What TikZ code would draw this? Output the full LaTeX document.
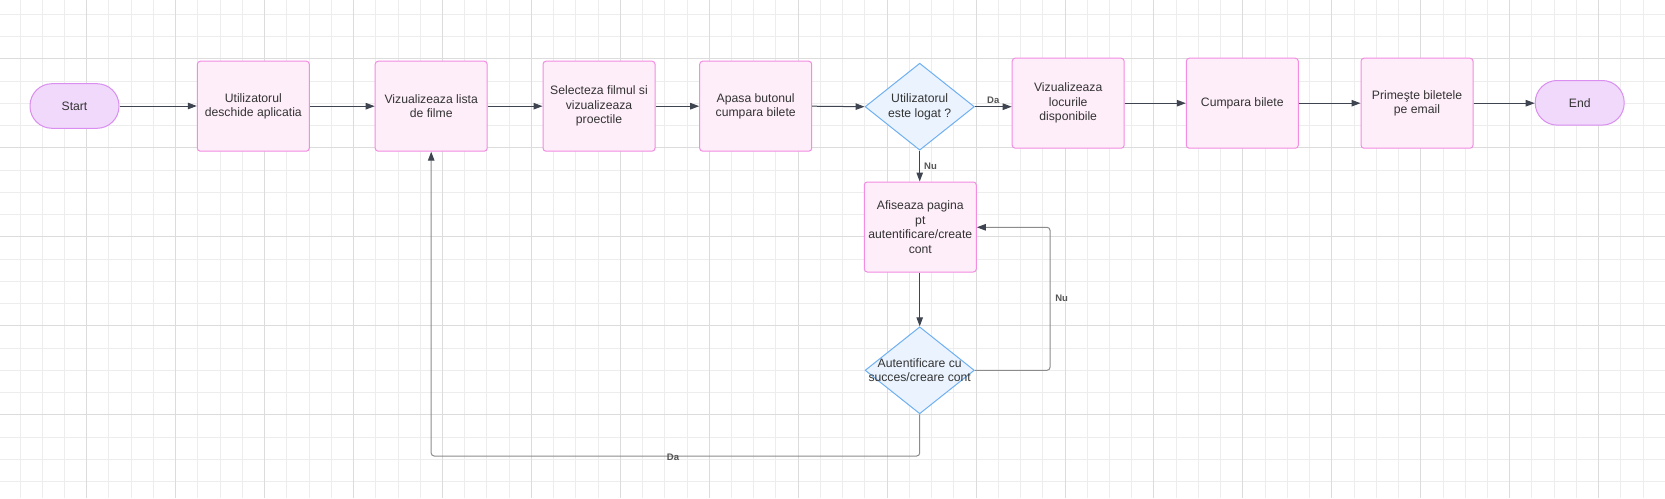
\documentclass[tikz,border=0pt]{standalone}
\usepackage{fontspec}
\setmainfont{Liberation Sans}
\usetikzlibrary{shapes.geometric,arrows.meta}
\definecolor{boxfill}{HTML}{FEEEF9}
\definecolor{boxborder}{HTML}{F28DE2}
\definecolor{termfill}{HTML}{F1D9FB}
\definecolor{termborder}{HTML}{D98EF0}
\definecolor{decfill}{HTML}{EBF4FE}
\definecolor{decborder}{HTML}{6FB0F2}
\definecolor{txt}{HTML}{333333}
\definecolor{arrowc}{HTML}{3E4450}
\definecolor{loopc}{HTML}{8C8C8C}
\definecolor{lblc}{HTML}{555555}
\definecolor{gridminor}{HTML}{EDEDED}
\definecolor{gridmajor}{HTML}{DCDCDC}
\begin{document}
\begin{tikzpicture}[x=1pt,y=-1pt,
  proc/.style={draw=boxborder, fill=boxfill, rounded corners=3pt, minimum width=112pt, minimum height=90pt, inner sep=0pt, align=center, text=txt, font=\fontsize{12.2}{14.5}\selectfont, line width=1pt},
  term/.style={draw=termborder, fill=termfill, rounded corners=22pt, minimum width=89pt, minimum height=44.6pt, inner sep=0pt, text=txt, font=\fontsize{12.2}{14.5}\selectfont, line width=1pt},
  dec/.style={diamond, draw=decborder, fill=decfill, minimum width=109.3pt, minimum height=87pt, inner sep=0pt, line width=1pt},
  dectext/.style={align=center, text=txt, font=\fontsize{12.2}{14.5}\selectfont, inner sep=0pt},
  flow/.style={draw=arrowc, line width=1pt, -{Triangle[length=9pt,width=6.5pt]}},
  loopflow/.style={draw=loopc, line width=1pt, rounded corners=3pt, -{Triangle[length=9pt,width=6.5pt,color=arrowc]}},
  lbl/.style={font=\fontsize{9.5}{11}\selectfont\bfseries, text=lblc, inner sep=1pt},
  gmin/.style={draw=gridminor, line width=1pt},
  gmaj/.style={draw=gridmajor, line width=1pt}]
\useasboundingbox[fill=white] (0,0) rectangle (1665,498);
% grid
\foreach \i in {0,...,74} {\pgfmathsetmacro\xx{20+22.235*\i}\draw[gmin] (\xx,0) -- (\xx,498);}
\foreach \i in {0,...,21} {\pgfmathsetmacro\yy{14.3+22.25*\i}\draw[gmin] (0,\yy) -- (1665,\yy);}
\foreach \i in {0,...,17} {\pgfmathsetmacro\xx{86.7+88.94*\i}\draw[gmaj] (\xx,0) -- (\xx,498);}
\foreach \i in {0,...,4} {\pgfmathsetmacro\yy{58.3+89*\i}\draw[gmaj] (0,\yy) -- (1665,\yy);}
% nodes
\node[term] (start) at (74.5,106) {Start};
\node[proc] (b1) at (253.3,106.2) {Utilizatorul\\deschide aplicatia};
\node[proc] (b2) at (431.2,106.2) {Vizualizeaza lista\\de filme};
\node[proc] (b3) at (599,106.2) {Selecteza filmul si\\vizualizeaza\\proectile};
\node[proc] (b4) at (755.7,106.2) {Apasa butonul\\cumpara bilete};
\node[dec] (d1) at (919.7,106.7) {};
\node[dectext] (d1t) at (d1.center) {Utilizatorul\\este logat ?};
\node[proc] (b5) at (1068.2,103.2) {Vizualizeaza\\locurile\\disponibile};
\node[proc] (b6) at (1242.3,103.2) {Cumpara bilete};
\node[proc] (b7) at (1417,103.2) {Primeşte biletele\\pe email};
\node[term] (end) at (1579.7,102.8) {End};
\node[proc] (b8) at (920.3,227) {Afiseaza pagina\\pt\\autentificare/create\\cont};
\node[dec] (d2) at (919.7,370.3) {};
\node[dectext] (d2t) at (d2.center) {Autentificare cu\\succes/creare cont};
% connectors
\draw[flow] (start.east) -- (start.east -| b1.west);
\draw[flow] (b1.east) -- (b1.east -| b2.west);
\draw[flow] (b2.east) -- (b2.east -| b3.west);
\draw[flow] (b3.east) -- (b3.east -| b4.west);
\draw[flow] (b4.east) -- (d1.west);
\draw[flow] (d1.east) -- (d1.east -| b5.west) node[lbl, pos=0.5, above=2pt] (da1) {Da};
\draw[flow] (b5.east) -- (b5.east -| b6.west);
\draw[flow] (b6.east) -- (b6.east -| b7.west);
\draw[flow] (b7.east) -- (b7.east -| end.west);
\draw[flow] (d1.south) -- (d1.south |- b8.north) node[lbl, pos=0.5, right=3pt] (nu1) {Nu};
\draw[flow] (b8.south -| d2.north) -- (d2.north);
\coordinate (c1) at (1050,370.3);
\coordinate (c2) at (1050,227.3);
\draw[loopflow] (d2.east) -- (c1) -- (c2) -- (c2 -| b8.east);
\node[lbl] (nu2) at (1061.7,298.3) {Nu};
\coordinate (c3) at (919.7,456);
\coordinate (c4) at (431.2,456);
\draw[loopflow] (d2.south) -- (c3) -- (c4) -- (b2.south);
\node[lbl] (da2) at (673,457) {Da};
\end{tikzpicture}
\end{document}
